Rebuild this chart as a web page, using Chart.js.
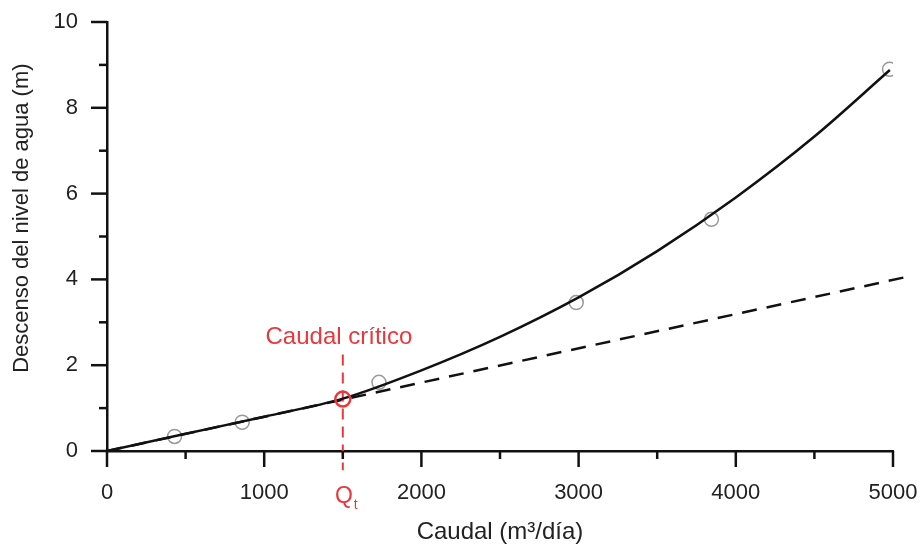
<!DOCTYPE html>
<html>
<head>
<meta charset="utf-8">
<script src="https://cdn.jsdelivr.net/npm/chart.js@4.4.0/dist/chart.umd.min.js"></script>
<style>
  html, body { margin: 0; padding: 0; background: #fff; }
</style>
</head>
<body>
<canvas id="chart" width="920" height="547"></canvas>
<script>
// fitted curve (Q in m3/dia, s in m)
const curveQ = [0, 500, 1000, 1500, 2000, 2500, 3000, 3500, 4000, 4500, 4980];
const curveS = [0, 0.40, 0.80, 1.22, 1.88, 2.66, 3.58, 4.66, 5.91, 7.33, 8.88];

// linear (laminar) trend, dashed
const lineQ = [0, 5090];
const lineS = [0, 4.06];

// measured points
const obsQ = [430, 860, 1730, 2985, 3845, 4978];
const obsS = [0.34, 0.67, 1.60, 3.46, 5.40, 8.90];

// critical flow
const critQ = 1500;
const critS = 1.21;
const critLineS = [2.25, -0.45];

const xTicks = [0, 1000, 2000, 3000, 4000, 5000];
const yTicks = [0, 2, 4, 6, 8, 10];

const RED = "#e8383d";
const FONT = "'Liberation Sans', Arial, sans-serif";

const toXY = (xs, ys) => xs.map((x, i) => ({ x: x, y: ys[i] }));

// tick marks: long ones at labelled values, short ones in between
const tickMarks = {
  id: "tickMarks",
  afterDraw(chart) {
    const ctx = chart.ctx;
    const xs = chart.scales.x, ys = chart.scales.y;
    const x0 = xs.getPixelForValue(0), y0 = ys.getPixelForValue(0);
    ctx.save();
    ctx.strokeStyle = "#111";
    ctx.lineWidth = 2.5;
    for (let v = 0; v <= 5000; v += 500) {
      const len = xTicks.includes(v) ? 16 : 8;
      const px = xs.getPixelForValue(v);
      ctx.beginPath();
      ctx.moveTo(px, y0);
      ctx.lineTo(px, y0 + len);
      ctx.stroke();
    }
    for (let v = 0; v <= 10; v += 1) {
      const len = yTicks.includes(v) ? 16 : 8;
      const py = ys.getPixelForValue(v);
      ctx.beginPath();
      ctx.moveTo(x0, py);
      ctx.lineTo(x0 - len, py);
      ctx.stroke();
    }
    ctx.restore();
  }
};

// red labels for the critical flow
const critLabels = {
  id: "critLabels",
  afterDraw(chart) {
    const ctx = chart.ctx;
    const xs = chart.scales.x, ys = chart.scales.y;
    const px = xs.getPixelForValue(critQ);
    ctx.save();
    ctx.fillStyle = RED;
    ctx.textAlign = "center";
    ctx.textBaseline = "middle";
    ctx.font = "24px " + FONT;
    ctx.fillText("Caudal crítico", xs.getPixelForValue(1475), ys.getPixelForValue(2.66));

    const qy = ys.getPixelForValue(0) + 46;
    ctx.font = "23px " + FONT;
    ctx.textAlign = "right";
    ctx.fillText("Q", px + 10, qy);
    ctx.font = "14px " + FONT;
    ctx.textAlign = "left";
    ctx.fillText("t", px + 11, qy + 8);
    ctx.restore();
  }
};

new Chart(document.getElementById("chart"), {
  type: "scatter",
  data: {
    datasets: [
      {
        data: [{ x: critQ, y: critS }],
        pointRadius: 7.5,
        pointBorderWidth: 2.5,
        pointBorderColor: RED,
        pointBackgroundColor: "rgba(0,0,0,0)",
        showLine: false
      },
      {
        data: toXY(curveQ, curveS),
        showLine: true,
        borderColor: "#111",
        borderWidth: 2.5,
        pointRadius: 0,
        cubicInterpolationMode: "monotone"
      },
      {
        data: toXY(lineQ, lineS),
        showLine: true,
        borderColor: "#111",
        borderWidth: 2.5,
        borderDash: [15, 10],
        pointRadius: 0,
        clip: false
      },
      {
        data: critLineS.map(s => ({ x: critQ, y: s })),
        showLine: true,
        borderColor: RED,
        borderWidth: 2,
        borderDash: [11, 7],
        pointRadius: 0,
        clip: false
      },
      {
        data: toXY(obsQ, obsS),
        showLine: false,
        pointRadius: 7,
        pointBorderWidth: 1.5,
        pointBorderColor: "#999",
        pointBackgroundColor: "rgba(0,0,0,0)"
      }
    ]
  },
  options: {
    responsive: false,
    animation: false,
    layout: { padding: { top: 22, right: 27, left: 0, bottom: 0 } },
    plugins: {
      legend: { display: false },
      tooltip: { enabled: false }
    },
    scales: {
      x: {
        type: "linear",
        min: 0,
        max: 5000,
        afterFit: s => { s.height = 96; s.paddingLeft = 0; s.paddingRight = 0; },
        grid: { drawOnChartArea: false, drawTicks: false },
        border: { display: true, color: "#111", width: 2.5 },
        ticks: {
          stepSize: 1000,
          padding: 29,
          color: "#222",
          font: { family: FONT, size: 22 },
          callback: v => xTicks.includes(v) ? String(v) : ""
        },
        title: {
          display: true,
          text: "Caudal (m³/día)",
          color: "#222",
          font: { family: FONT, size: 24 },
          padding: { top: 0, bottom: 0 }
        }
      },
      y: {
        type: "linear",
        min: 0,
        max: 10,
        afterFit: s => { s.width = 107; s.paddingTop = 0; s.paddingBottom = 0; },
        grid: { drawOnChartArea: false, drawTicks: false },
        border: { display: true, color: "#111", width: 2.5 },
        ticks: {
          stepSize: 2,
          padding: 29,
          color: "#222",
          font: { family: FONT, size: 22 },
          callback: v => yTicks.includes(v) ? String(v) : ""
        },
        title: {
          display: true,
          text: "      Descenso del nivel de agua (m)",
          color: "#222",
          font: { family: FONT, size: 22 },
          padding: { top: 9, bottom: 0 }
        }
      }
    }
  },
  plugins: [tickMarks, critLabels]
});
</script>
</body>
</html>
